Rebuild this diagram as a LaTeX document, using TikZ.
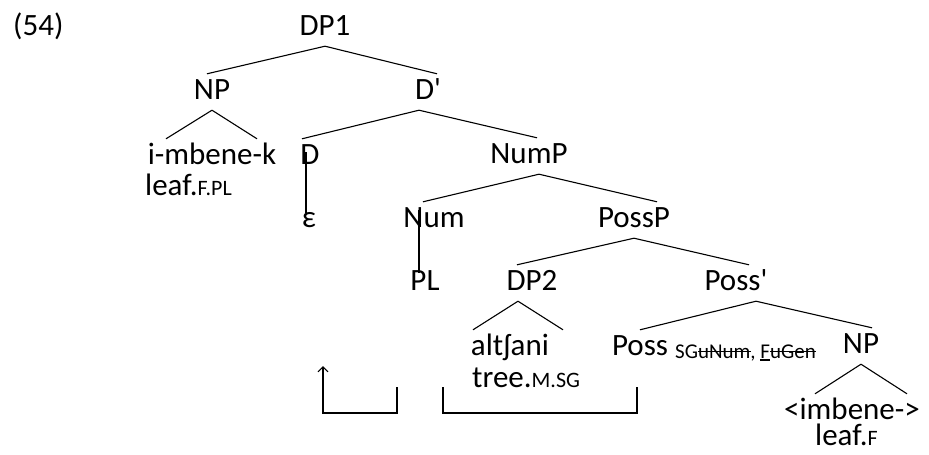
\documentclass[tikz,border=0pt]{standalone}
\usepackage{fontspec}
\setmainfont{Carlito}[Ligatures=TeXOff]
\usetikzlibrary{arrows.meta}
\tikzstyle{cat}=[anchor=base, inner xsep=0pt, inner ysep=5pt, text height=20pt, text depth=6pt]
\tikzstyle{word}=[cat, anchor=base west]
\tikzstyle{edge}=[line width=1.1pt, black]
\newcommand{\gsc}[1]{{\fontsize{22}{22}\selectfont #1}}
\newcommand{\strk}[1]{\setbox0\hbox{#1}\rlap{\raisebox{0.28em}{\rule{\wd0}{0.07em}}}\box0}
\newcommand{\uln}[1]{\setbox0\hbox{#1}\rlap{\raisebox{-0.14em}{\rule{\wd0}{0.1em}}}\box0}

\begin{document}
\begin{tikzpicture}[x=1pt, y=-1pt, font=\fontsize{31}{37}\selectfont]
			\useasboundingbox (0,0) rectangle (929,455);

			\node[word] (ex) at (13,35) {(54)};
			\node[cat] (dp1) at (325,35) {DP1};
			\node[cat] (np1) at (212,99) {NP};
			\node[cat] (dbar) at (428,99) {D'};
			\node[cat] (imb) at (212,164) {i-mbene-k};
			\node[word] (imbgl) at (145,195) {leaf.\gsc{F.PL}};
			\node[cat] (d) at (310,164) {D};
			\node[cat] (nump) at (529,163) {NumP};
			\node[cat] (eps) at (309,227) {ε};
			\node[cat] (num) at (434,227) {Num};
			\node[cat] (possp) at (634,227) {PossP};
			\node[cat] (pl) at (425,290) {PL};
			\node[cat] (dp2) at (532,290) {DP2};
			\node[cat] (possbar) at (736,290) {Poss'};
			\node[cat] (alt) at (510,355) {altʃani};
			\node[word] (altgl) at (472,387) {tree.\gsc{M.SG}};
			\node[cat] (poss) at (640,355) {Poss};
			\node[word, font=\fontsize{21}{21}\selectfont] (feat) at (675,358) {SG\strk{uNum}, \uln{F}\strk{uGen}};
			\node[cat] (np2) at (861,353) {NP};
			\node[cat] (imb2) at (852,419) {<imbene->};
			\node[word] (imb2gl) at (815,445) {leaf.\gsc{F}};

			% DP1
			\draw[edge] (dp1.south) -- ([xshift=-5pt]np1.north);
			\draw[edge] (dp1.south) -- ([xshift=9pt]dbar.north);
			% NP triangle
			\draw[edge] (np1.south) -- ([xshift=-46pt]imb.north);
			\draw[edge] (np1.south) -- ([xshift=45pt]imb.north);
			% D'
			\draw[edge] ([xshift=-9pt]dbar.south) -- ([xshift=-8pt]d.north);
			\draw[edge] ([xshift=-9pt]dbar.south) -- ([xshift=8pt]nump.north);
			\draw[edge] ([xshift=-4pt,yshift=12pt]d.base) -- ([xshift=-3pt,yshift=-11pt]eps.north);
			% NumP
			\draw[edge] ([xshift=10pt]nump.south) -- ([xshift=-11pt]num.north);
			\draw[edge] ([xshift=10pt]nump.south) -- ([xshift=23pt]possp.north);
			\draw[edge] ([xshift=-15pt,yshift=-8pt]num.north) -- ([xshift=-6pt,yshift=-8pt]pl.north);
			% PossP
			\draw[edge] (possp.south) -- ([xshift=-15pt]dp2.north);
			\draw[edge] (possp.south) -- ([xshift=13pt]possbar.north);
			% DP2 triangle
			\draw[edge] ([xshift=-14pt]dp2.south) -- ([xshift=-37pt]alt.north);
			\draw[edge] ([xshift=-14pt]dp2.south) -- ([xshift=53pt]alt.north);
			% Poss'
			\draw[edge] ([xshift=20pt]possbar.south) -- (poss.north);
			\draw[edge] ([xshift=20pt]possbar.south) -- ([xshift=11pt]np2.north);
			% NP triangle
			\draw[edge] (np2.south) -- ([xshift=-37pt]imb2.north);
			\draw[edge] (np2.south) -- ([xshift=55pt]imb2.north);

			% Movement
			\coordinate (t1) at (397,387);
			\coordinate (t2) at (323,413);
			\coordinate (t3) at (323,366);
			\draw[edge,-{Straight Barb[length=5pt,width=10pt]}] (t1) |- (t2) -- (t3);
			\coordinate (t4) at (637,387);
			\coordinate (t5) at (443,413);
			\coordinate (t6) at (443,387);
			\draw[edge] (t4) |- (t5) -- (t6);
		\end{tikzpicture}
\end{document}
